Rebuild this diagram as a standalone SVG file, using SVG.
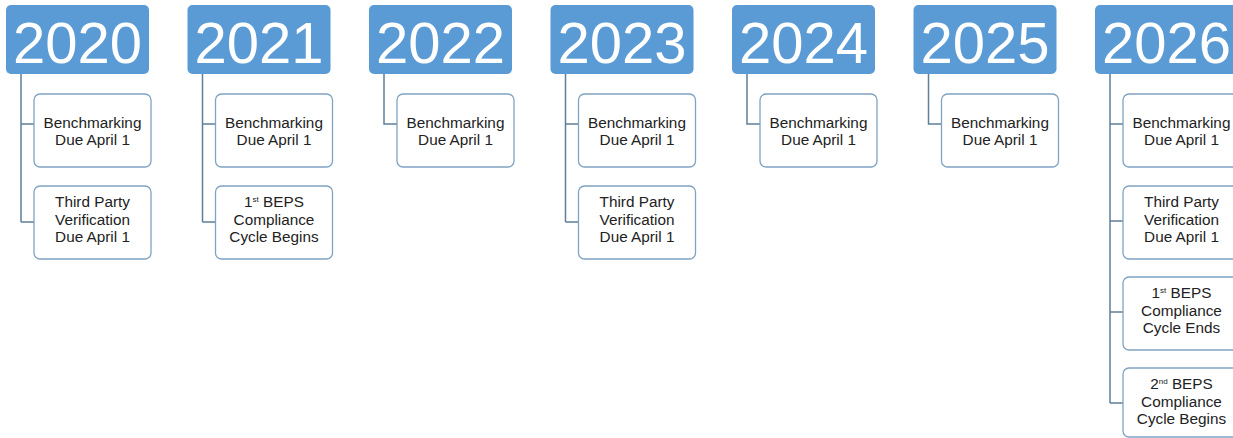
<svg xmlns="http://www.w3.org/2000/svg" width="1233" height="438" viewBox="0 0 1233 438">
<style>
.hdr{fill:#5b9bd5;}
.yr{font-family:"Liberation Sans",Arial,sans-serif;font-size:58px;fill:#ffffff;text-anchor:middle;}
.box{fill:#ffffff;stroke:#7fa3c2;stroke-width:1.3;}
.t{font-family:"Liberation Sans",Arial,sans-serif;font-size:15.3px;fill:#222222;text-anchor:middle;}
.sup{font-size:8px;}
.con{fill:none;stroke:#5f7f99;stroke-width:1.5;}
</style>
<rect width="1233" height="438" fill="#ffffff"/>
<g id="connectors">
<path class="con" d="M21 74V222M21 124H34M21 222H34"/>
<path class="con" d="M202.5 74V222M202.5 124H215.5M202.5 222H215.5"/>
<path class="con" d="M384 74V124H397"/>
<path class="con" d="M565.5 74V222M565.5 124H578.5M565.5 222H578.5"/>
<path class="con" d="M747 74V124H760"/>
<path class="con" d="M928.5 74V124H941.5"/>
<path class="con" d="M1110 74V403M1110 124H1123M1110 221H1123M1110 312H1123M1110 403H1123"/>
</g>
<g id="y2020">
<rect class="hdr" x="6" y="5" width="143" height="69" rx="5"/>
<text class="yr" x="77.5" y="63">2020</text>
<rect class="box" x="34" y="94" width="117" height="73" rx="6"/>
<text class="t" x="92.5" y="128">Benchmarking</text>
<text class="t" x="92.5" y="145">Due April 1</text>
<rect class="box" x="34" y="186" width="117" height="73" rx="6"/>
<text class="t" x="92.5" y="207">Third Party</text>
<text class="t" x="92.5" y="225">Verification</text>
<text class="t" x="92.5" y="242">Due April 1</text>
</g>
<g id="y2021">
<rect class="hdr" x="187.5" y="5" width="143" height="69" rx="5"/>
<text class="yr" x="259" y="63">2021</text>
<rect class="box" x="215.5" y="94" width="117" height="73" rx="6"/>
<text class="t" x="274" y="128">Benchmarking</text>
<text class="t" x="274" y="145">Due April 1</text>
<rect class="box" x="215.5" y="186" width="117" height="73" rx="6"/>
<text class="t" x="274" y="207">1<tspan class="sup" dy="-5">st</tspan><tspan dy="5"> BEPS</tspan></text>
<text class="t" x="274" y="225">Compliance</text>
<text class="t" x="274" y="242">Cycle Begins</text>
</g>
<g id="y2022">
<rect class="hdr" x="369" y="5" width="143" height="69" rx="5"/>
<text class="yr" x="440.5" y="63">2022</text>
<rect class="box" x="397" y="94" width="117" height="73" rx="6"/>
<text class="t" x="455.5" y="128">Benchmarking</text>
<text class="t" x="455.5" y="145">Due April 1</text>
</g>
<g id="y2023">
<rect class="hdr" x="550.5" y="5" width="143" height="69" rx="5"/>
<text class="yr" x="622" y="63">2023</text>
<rect class="box" x="578.5" y="94" width="117" height="73" rx="6"/>
<text class="t" x="637" y="128">Benchmarking</text>
<text class="t" x="637" y="145">Due April 1</text>
<rect class="box" x="578.5" y="186" width="117" height="73" rx="6"/>
<text class="t" x="637" y="207">Third Party</text>
<text class="t" x="637" y="225">Verification</text>
<text class="t" x="637" y="242">Due April 1</text>
</g>
<g id="y2024">
<rect class="hdr" x="732" y="5" width="143" height="69" rx="5"/>
<text class="yr" x="803.5" y="63">2024</text>
<rect class="box" x="760" y="94" width="117" height="73" rx="6"/>
<text class="t" x="818.5" y="128">Benchmarking</text>
<text class="t" x="818.5" y="145">Due April 1</text>
</g>
<g id="y2025">
<rect class="hdr" x="913.5" y="5" width="143" height="69" rx="5"/>
<text class="yr" x="985" y="63">2025</text>
<rect class="box" x="941.5" y="94" width="117" height="73" rx="6"/>
<text class="t" x="1000" y="128">Benchmarking</text>
<text class="t" x="1000" y="145">Due April 1</text>
</g>
<g id="y2026">
<rect class="hdr" x="1095" y="5" width="143" height="69" rx="5"/>
<text class="yr" x="1166.5" y="63">2026</text>
<rect class="box" x="1123" y="94" width="117" height="73" rx="6"/>
<text class="t" x="1181.5" y="128">Benchmarking</text>
<text class="t" x="1181.5" y="145">Due April 1</text>
<rect class="box" x="1123" y="186" width="117" height="73" rx="6"/>
<text class="t" x="1181.5" y="207">Third Party</text>
<text class="t" x="1181.5" y="225">Verification</text>
<text class="t" x="1181.5" y="242">Due April 1</text>
<rect class="box" x="1123" y="277" width="117" height="73" rx="6"/>
<text class="t" x="1181.5" y="298">1<tspan class="sup" dy="-5">st</tspan><tspan dy="5"> BEPS</tspan></text>
<text class="t" x="1181.5" y="316">Compliance</text>
<text class="t" x="1181.5" y="333">Cycle Ends</text>
<rect class="box" x="1123" y="368" width="117" height="69" rx="6"/>
<text class="t" x="1181.5" y="389">2<tspan class="sup" dy="-5">nd</tspan><tspan dy="5"> BEPS</tspan></text>
<text class="t" x="1181.5" y="407">Compliance</text>
<text class="t" x="1181.5" y="424">Cycle Begins</text>
</g>
</svg>
